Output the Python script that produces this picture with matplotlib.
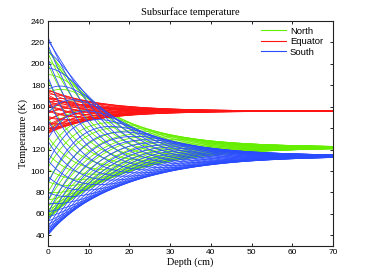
import numpy as np
import matplotlib
matplotlib.use("Agg")
import matplotlib.pyplot as plt

# surface temperature (K) of each profile, one value per time step over the year
north_surface = [55, 56, 57, 59, 61, 64, 68, 73, 80, 90, 102, 116,
                 132, 150, 168, 185, 200, 210, 215, 212, 203, 190, 173, 154,
                 135, 118, 103, 90, 80, 72, 66, 62, 59, 57, 56, 55]
equator_surface = [166, 171, 174, 176, 175, 172, 167, 161, 154, 147, 141, 137,
                   135, 136, 139, 144, 150, 156, 161, 165, 168, 169, 168, 165,
                   160, 154, 148, 143, 139, 137, 137, 140, 145, 151, 157, 162]
south_surface = [40, 41, 42, 43, 45, 47, 50, 53, 57, 62, 70, 80,
                 95, 110, 128, 148, 168, 188, 205, 218, 225, 222, 212, 196,
                 176, 154, 130, 108, 88, 72, 60, 52, 47, 44, 42, 41]

# temperature reached at 70 cm
deep_temp = {"North": 122.0, "Equator": 156.0, "South": 114.0}
# annual skin depth (cm)
skin_depth = {"North": 16.5, "Equator": 17.0, "South": 16.5}

names = ["North", "Equator", "South"]
surfaces = [north_surface, equator_surface, south_surface]
colors = ["#66ee00", "#ff1414", "#2a4cff"]

depth = np.linspace(0, 70, 141)


def profiles(ts, t_deep, d):
    ts = np.asarray(ts, dtype=float)
    n_t = len(ts)
    coef = np.fft.rfft(ts - ts.mean())
    mean_z = t_deep + (ts.mean() - t_deep) * np.exp(-depth / 15.0)
    out = []
    for k in range(n_t):
        T = mean_z.copy()
        for n in range(1, len(coef)):
            c = coef[n] * (1.0 if n == n_t // 2 else 2.0) / n_t
            decay = np.exp(-(1 + 1j) * depth * np.sqrt(n) / d)
            T += np.real(c * np.exp(2j * np.pi * n * k / n_t) * decay)
        out.append(T)
    return out


fig = plt.figure(figsize=(3.68, 2.77), dpi=100)
ax = fig.add_axes([0.130, 0.112, 0.775, 0.812])

for name, ts, col in zip(names, surfaces, colors):
    curves = profiles(ts, deep_temp[name], skin_depth[name])
    for i, T in enumerate(curves):
        ax.plot(depth, T, color=col, lw=0.6,
                label=name if i == 0 else None)

ax.set_xlim(0, 70)
ax.set_ylim(30, 240)
ax.set_xticks(range(0, 71, 10))
ax.set_yticks(range(40, 241, 20))
ax.tick_params(direction="in", length=2.5, width=0.6, top=True, right=True,
               labelsize=6, pad=2)
for lab in ax.get_xticklabels() + ax.get_yticklabels():
    lab.set_family("Liberation Sans")
for sp in ax.spines.values():
    sp.set_linewidth(0.8)
    sp.set_color("#222222")

ax.set_title("Subsurface temperature", family="Liberation Serif",
             fontsize=7.5, pad=4)
ax.set_xlabel("Depth (cm)", family="Liberation Serif", fontsize=7.3, labelpad=1)
ax.set_ylabel("Temperature (K)", family="Liberation Serif", fontsize=7.5,
              labelpad=2)

leg = ax.legend(loc="upper right", bbox_to_anchor=(0.985, 1.0), frameon=False,
                prop={"family": "Liberation Sans", "size": 6.8},
                handlelength=2.7, handletextpad=0.4, labelspacing=0.15,
                borderaxespad=0.2)
for h in leg.get_lines():
    h.set_linewidth(0.8)

fig.savefig("out.png", dpi=100)
